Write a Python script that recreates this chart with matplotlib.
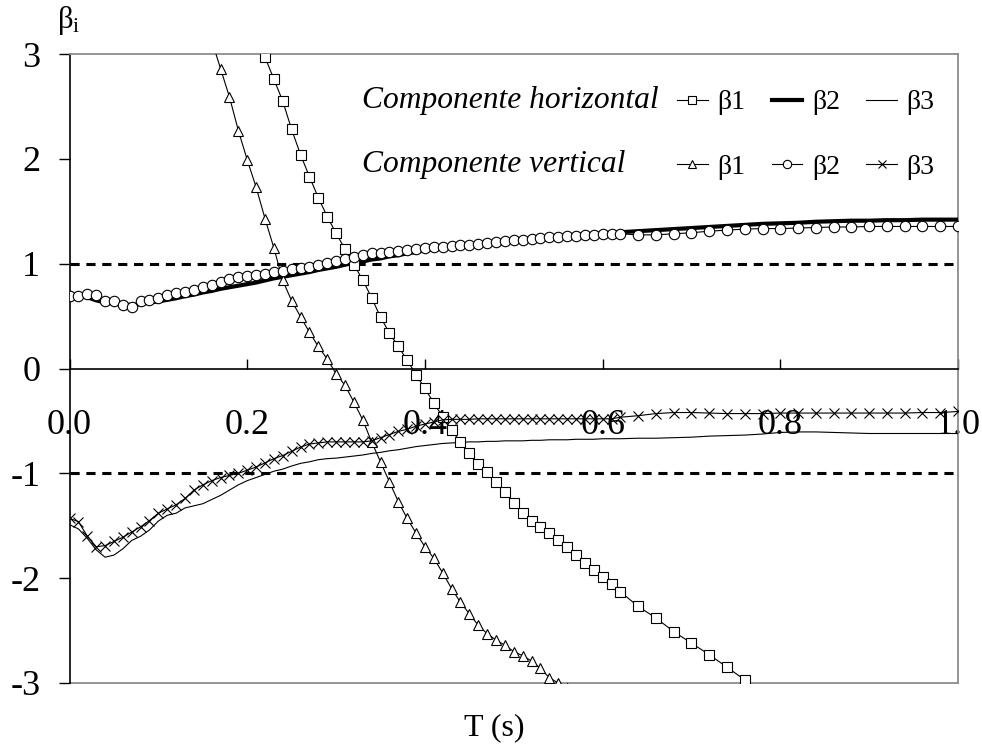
import matplotlib
matplotlib.use("Agg")
import matplotlib.pyplot as plt
from matplotlib.lines import Line2D

plt.rcParams["font.family"] = ["Liberation Serif", "DejaVu Serif"]
plt.rcParams["axes.unicode_minus"] = False
plt.rcParams["mathtext.fontset"] = "custom"
plt.rcParams["mathtext.rm"] = "Liberation Serif"

# Period grid (s)
T = [0.00, 0.01, 0.02, 0.03, 0.04, 0.05, 0.06, 0.07, 0.08, 0.09,
     0.10, 0.11, 0.12, 0.13, 0.14, 0.15, 0.16, 0.17, 0.18, 0.19,
     0.20, 0.21, 0.22, 0.23, 0.24, 0.25, 0.26, 0.27, 0.28, 0.29,
     0.30, 0.31, 0.32, 0.33, 0.34, 0.35, 0.36, 0.37, 0.38, 0.39,
     0.40, 0.41, 0.42, 0.43, 0.44, 0.45, 0.46, 0.47, 0.48, 0.49,
     0.50, 0.51, 0.52, 0.53, 0.54, 0.55, 0.56, 0.57, 0.58, 0.59,
     0.60, 0.61, 0.62,
     0.64, 0.66, 0.68, 0.70, 0.72, 0.74, 0.76, 0.78, 0.80, 0.82,
     0.84, 0.86, 0.88, 0.90, 0.92, 0.94, 0.96, 0.98, 1.00]

# Horizontal component
b1_h = [3.20, 2.97, 2.76, 2.55, 2.28, 2.04, 1.83, 1.63, 1.45,
        1.29, 1.14, 0.99, 0.845, 0.675, 0.49, 0.34, 0.21, 0.08, -0.06,
        -0.19, -0.33, -0.46, -0.59, -0.70, -0.81, -0.91, -0.99, -1.08, -1.18,
        -1.28, -1.38, -1.45, -1.51, -1.57, -1.64, -1.70, -1.78, -1.86, -1.92,
        -1.99, -2.06, -2.13,
        -2.27, -2.38, -2.51, -2.62, -2.73, -2.85, -2.97, -3.08]
t_b1_h = [t for t in T if 0.205 < t < 0.785]

b2_h = [0.70, 0.69, 0.68, 0.65, 0.63, 0.62, 0.61, 0.605, 0.615, 0.63,
        0.64, 0.655, 0.67, 0.69, 0.705, 0.725, 0.74, 0.76, 0.775, 0.79,
        0.805, 0.82, 0.84, 0.86, 0.875, 0.89, 0.905, 0.92, 0.94, 0.955,
        0.97, 0.99, 1.01, 1.02, 1.04, 1.05, 1.07, 1.08, 1.10, 1.11,
        1.13, 1.14, 1.15, 1.16, 1.17, 1.18, 1.19, 1.20, 1.21, 1.22,
        1.23, 1.235, 1.24, 1.25, 1.255, 1.26, 1.27, 1.275, 1.28, 1.285,
        1.29, 1.295, 1.30,
        1.31, 1.32, 1.33, 1.34, 1.35, 1.36, 1.37, 1.38, 1.385, 1.39,
        1.40, 1.405, 1.41, 1.41, 1.415, 1.415, 1.42, 1.42, 1.42]

b3_h = [-1.49, -1.53, -1.62, -1.73, -1.80, -1.78, -1.72, -1.64, -1.60, -1.54,
        -1.455, -1.40, -1.38, -1.33, -1.31, -1.29, -1.25, -1.21, -1.16, -1.11,
        -1.07, -1.04, -1.01, -0.98, -0.96, -0.93, -0.905, -0.89, -0.87, -0.86,
        -0.855, -0.845, -0.835, -0.825, -0.81, -0.80, -0.785, -0.775, -0.76, -0.745,
        -0.735, -0.725, -0.715, -0.71, -0.705, -0.70, -0.70, -0.695, -0.695, -0.69,
        -0.69, -0.69, -0.685, -0.685, -0.68, -0.68, -0.68, -0.675, -0.675, -0.675,
        -0.67, -0.67, -0.67,
        -0.665, -0.665, -0.66, -0.655, -0.645, -0.64, -0.635, -0.625, -0.61, -0.605,
        -0.605, -0.61, -0.615, -0.62, -0.62, -0.62, -0.62, -0.62, -0.62]

# Vertical component
b1_v = [3.13, 2.86, 2.59, 2.27, 1.99, 1.73, 1.43, 1.15, 0.84, 0.645,
        0.495, 0.345, 0.21, 0.09, -0.05, -0.16, -0.32, -0.49, -0.70, -0.89,
        -1.08, -1.27, -1.43, -1.57, -1.70, -1.81, -1.95, -2.10, -2.23, -2.34,
        -2.45, -2.53, -2.59, -2.64, -2.70, -2.74, -2.79, -2.86, -2.95, -3.00,
        -3.05]
t_b1_v = [t for t in T if 0.155 < t < 0.565]

b2_v = [0.695, 0.695, 0.71, 0.70, 0.645, 0.64, 0.605, 0.59, 0.64, 0.655,
        0.67, 0.70, 0.725, 0.73, 0.745, 0.775, 0.80, 0.825, 0.855, 0.875,
        0.885, 0.895, 0.905, 0.92, 0.93, 0.945, 0.955, 0.97, 0.99, 1.01,
        1.03, 1.045, 1.065, 1.085, 1.10, 1.105, 1.11, 1.125, 1.135, 1.14,
        1.145, 1.155, 1.16, 1.17, 1.175, 1.18, 1.19, 1.20, 1.21, 1.22,
        1.225, 1.23, 1.24, 1.245, 1.25, 1.255, 1.26, 1.265, 1.27, 1.275,
        1.28, 1.28, 1.285,
        1.275, 1.275, 1.285, 1.295, 1.31, 1.32, 1.33, 1.335, 1.335, 1.34,
        1.345, 1.35, 1.35, 1.355, 1.355, 1.355, 1.355, 1.355, 1.355]

b3_v = [-1.43, -1.46, -1.60, -1.70, -1.69, -1.65, -1.61, -1.56, -1.51, -1.45,
        -1.38, -1.34, -1.30, -1.24, -1.16, -1.11, -1.07, -1.04, -1.02, -1.00,
        -0.97, -0.94, -0.90, -0.86, -0.83, -0.79, -0.75, -0.72, -0.71, -0.70,
        -0.70, -0.70, -0.70, -0.70, -0.69, -0.66, -0.63, -0.60, -0.58, -0.55,
        -0.53, -0.51, -0.49, -0.485, -0.485, -0.485, -0.48, -0.48, -0.48, -0.48,
        -0.48, -0.48, -0.48, -0.48, -0.48, -0.48, -0.48, -0.48, -0.48, -0.48,
        -0.48, -0.48, -0.465,
        -0.45, -0.43, -0.42, -0.42, -0.425, -0.43, -0.43, -0.43, -0.425, -0.425,
        -0.425, -0.425, -0.425, -0.425, -0.425, -0.425, -0.42, -0.42, -0.41]

LIMITS = [-1.0, 1.0]
X_TICKS = [0.0, 0.2, 0.4, 0.6, 0.8, 1.0]
Y_TICKS = [-3, -2, -1, 0, 1, 2, 3]
SERIES_LABELS = ["β1", "β2", "β3"]
ROW_LABELS = ["Componente horizontal", "Componente vertical"]

FRAME = "#8c8c8c"

fig = plt.figure(figsize=(9.82, 7.44), dpi=100)
ax = fig.add_axes([0.0708, 0.082, 0.9048, 0.8454])
ax.set_xlim(0, 1)
ax.set_ylim(-3, 3)

for lim in LIMITS:
    ax.axhline(lim, color="black", lw=2.2, linestyle=(0, (3.0, 2.2)), zorder=1)

thin = dict(color="black", lw=0.8)
mk = dict(mfc="white", mec="black", mew=0.8)

ax.plot(T, b2_h, color="black", lw=3.0, solid_capstyle="butt", zorder=3)
ax.plot(T, b3_h, zorder=3, **thin)
ax.plot(t_b1_h, b1_h, marker="s", ms=6.5, zorder=4, **thin, **mk)
ax.plot(t_b1_v, b1_v, marker="^", ms=7.5, zorder=4, **thin, **mk)
ax.plot(T, b2_v, marker="o", ms=7.5, zorder=4, **thin, **mk)
ax.plot(T, b3_v, marker="x", ms=7, zorder=4, color="black", lw=0.8, mew=0.8)

# axes frame: black left axis, black zero line carrying the T ticks, grey box
ax.spines["left"].set_color("black")
ax.spines["left"].set_linewidth(1.2)
ax.spines["bottom"].set_position(("data", 0))
ax.spines["bottom"].set_color("black")
ax.spines["bottom"].set_linewidth(1.2)
for s in ("top", "right"):
    ax.spines[s].set_color(FRAME)
    ax.spines[s].set_linewidth(1.3)
ax.plot([0, 1], [0, 0], transform=ax.transAxes, color=FRAME, lw=1.3,
        clip_on=False, zorder=0.5)

ax.set_xticks(X_TICKS)
ax.set_xticklabels([f"{v:.1f}" for v in X_TICKS])
ax.set_yticks(Y_TICKS)
ax.set_yticklabels([f"{v:d}" for v in Y_TICKS])
ax.tick_params(axis="x", direction="in", length=7.5, width=1.0, pad=29,
               labelsize=26, color="black")
ax.tick_params(axis="y", direction="out", length=8, width=1.0, pad=13,
               labelsize=26, color="black")

fig.text(57 / 982, 1 - 28 / 744, r"$\mathrm{β_i}$", fontsize=22,
         ha="left", va="baseline")
fig.text(494 / 982, 1 - 735 / 744, "T (s)", fontsize=23,
         ha="center", va="baseline")

# legend: row labels on the left, three handles per row
line_h = [Line2D([], [], marker="s", ms=6, **thin, **mk),
          Line2D([], [], color="black", lw=3.0),
          Line2D([], [], **thin)]
line_v = [Line2D([], [], marker="^", ms=6, **thin, **mk),
          Line2D([], [], marker="o", ms=6, **thin, **mk),
          Line2D([], [], marker="x", ms=6, color="black", lw=0.8, mew=0.8)]
handles = []
labels = []
for hh, hv, lab in zip(line_h, line_v, SERIES_LABELS):
    handles += [hh, hv]
    labels += [lab, lab]
ax.legend(handles, labels, ncol=3, loc="upper left",
          bbox_to_anchor=(677 / 982, 1 - 90 / 744), bbox_transform=fig.transFigure,
          frameon=False, fontsize=20, handlelength=1.1, handletextpad=0.35,
          columnspacing=0.95, labelspacing=1.4, borderpad=0, borderaxespad=0)

fig.text(362 / 982, 1 - 108 / 744, ROW_LABELS[0], fontsize=22.7, style="italic",
         ha="left", va="baseline")
fig.text(362 / 982, 1 - 172 / 744, ROW_LABELS[1], fontsize=22.7, style="italic",
         ha="left", va="baseline")

fig.savefig("out.png", dpi=100)
